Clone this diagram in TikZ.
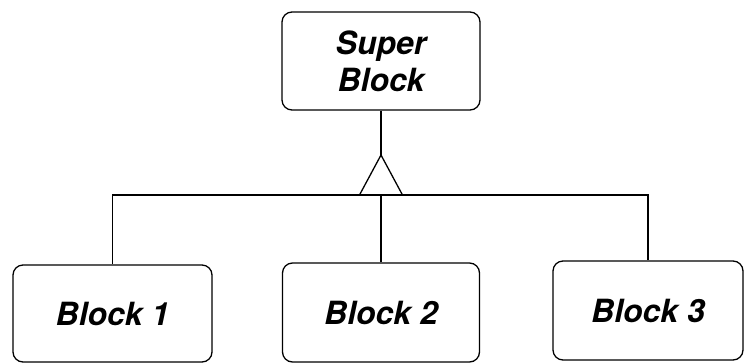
\documentclass[tikz,border=0pt]{standalone}
\usepackage{fontspec}
\setsansfont{TeX Gyre Heros}
\begin{document}
\begin{tikzpicture}[x=.03cm,y=-.03cm,
      block/.style={draw=black, fill=white, rounded corners=.3cm,
        line width=1.1pt, align=center, inner sep=0pt,
        font=\fontsize{27.3}{31.5}\selectfont\sffamily\bfseries\itshape},
      link/.style={draw=black, line width=1.1pt}]
      \useasboundingbox (0,0) rectangle (745,363);

      \node[block, minimum width=198*.03cm, minimum height=98*.03cm]
        (super) at (381,61) {Super\\Block};

      \node[block, minimum width=199*.03cm, minimum height=97*.03cm]
        (block1) at (112.5,313.5) {Block 1};
      \node[block, minimum width=197*.03cm, minimum height=99*.03cm]
        (block2) at (381,312.5) {Block 2};
      \node[block, minimum width=190*.03cm, minimum height=99*.03cm]
        (block3) at (648,310.5) {Block 3};

      \coordinate (tip) at (381,155);
      \coordinate (bus) at (381,195);

      \draw[link] (super.south) -- (tip);
      \draw[link, line join=miter] (tip) -- ++(-21.5,40) -- ++(43,0) -- cycle;
      \draw[link] (block1.north) |- (bus) -| (block3.north);
      \draw[link] (bus) -- (block2.north);
    \end{tikzpicture}
\end{document}
